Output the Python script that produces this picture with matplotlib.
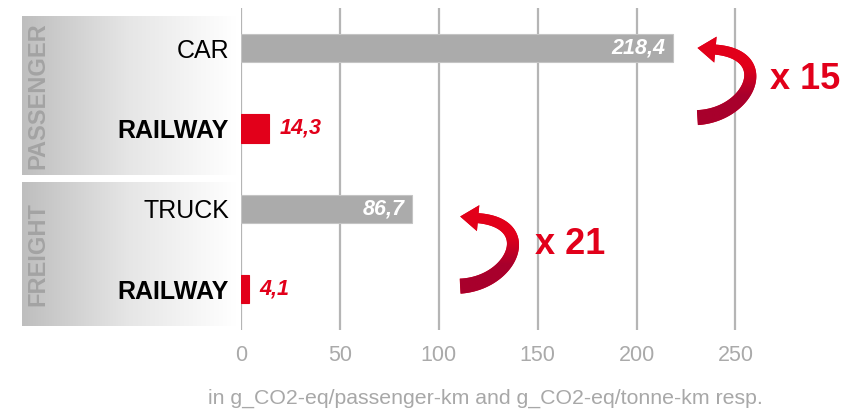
import numpy as np
import matplotlib.pyplot as plt
from matplotlib.patches import Polygon
from matplotlib.transforms import IdentityTransform
from matplotlib.colors import LinearSegmentedColormap

plt.rcParams['font.family'] = ['Liberation Sans', 'DejaVu Sans']

# data
categories = ["CAR", "RAILWAY", "TRUCK", "RAILWAY"]
values = [218.4, 14.3, 86.7, 4.1]
value_labels = ["218,4", "14,3", "86,7", "4,1"]
is_rail = [False, True, False, True]
groups = ["PASSENGER", "FREIGHT"]
factors = ["x 15", "x 21"]
x_ticks = [0, 50, 100, 150, 200, 250]
caption = "in g_CO2-eq/passenger-km and g_CO2-eq/tonne-km resp."

RED = "#e2001a"
DARK_RED = "#a8002c"
GREY = "#ababab"

W, H = 858, 411
fig = plt.figure(figsize=(W / 100, H / 100), dpi=100)


def px_box(x0, y0, x1, y1):
    # figure-pixel box (top-left origin) -> add_axes rect
    return [x0 / W, 1 - y1 / H, (x1 - x0) / W, (y1 - y0) / H]


# gradient boxes behind the group labels
grad = np.linspace(0, 1, 256).reshape(1, -1)
cmap = LinearSegmentedColormap.from_list("g", ["#bebebe", "#e6e6e6", "#ffffff"])
for rect, name in [((22, 16, 236, 175), groups[0]), ((22, 182, 236, 326), groups[1])]:
    bax = fig.add_axes(px_box(*rect), zorder=0)
    bax.imshow(grad, aspect="auto", cmap=cmap, extent=[0, 1, 0, 1])
    bax.set_axis_off()
    bax.text(0.072, 0.5, name, rotation=90, ha="center", va="center",
             fontsize=17, fontweight="bold", color="#a3a3a3", transform=bax.transAxes)

ax = fig.add_axes(px_box(241, 8, 858, 330), zorder=2)
ax.patch.set_alpha(0)

y = np.arange(len(categories))
colors = [RED if r else GREY for r in is_rail]
edges = [RED if r else "#c4c4c4" for r in is_rail]
ax.barh(y, values, height=0.35, color=colors, edgecolor=edges, linewidth=0.8, zorder=3)

for yi, v, lab, r in zip(y, values, value_labels, is_rail):
    if r:
        ax.annotate(lab, (v, yi), xytext=(10, 0), textcoords="offset pixels", ha="left", va="center",
                    fontsize=15.5, fontweight="bold", fontstyle="italic", color=RED, zorder=4)
    else:
        ax.annotate(lab, (v, yi), xytext=(-8, 0), textcoords="offset pixels", ha="right", va="center",
                    fontsize=15.5, fontweight="bold", fontstyle="italic", color="white", zorder=4)

ax.set_xlim(0, 312)
ax.set_ylim(3.51, -0.5)
ax.set_yticks(y)
ax.set_yticklabels(categories, fontsize=18)
for lbl, r in zip(ax.get_yticklabels(), is_rail):
    if r:
        lbl.set_fontweight("bold")
ax.set_xticks(x_ticks)
ax.set_xticklabels([str(t) for t in x_ticks], fontsize=15.5, color="#aaaaaa")
ax.tick_params(axis="both", length=0)
ax.tick_params(axis="x", pad=11)
ax.tick_params(axis="y", pad=8.5)
for s in ax.spines.values():
    s.set_visible(False)
for t in x_ticks:
    ax.axvline(t, color="#b5b5b5", lw=1.6, zorder=1)

# curved ribbon arrow, shape given in pixel offsets from the tail (y pointing up)
CTRL = np.array([[0, 0], [53, 3], [78, 63], [18, 68]], dtype=float)
HEAD_LEN, HEAD_HALF = 18, 13
arrow_grad = LinearSegmentedColormap.from_list("r", [DARK_RED, DARK_RED, RED, RED])


def curved_arrow(ax, tail_xy, label, label_xy):
    ox, oy = ax.transData.transform(tail_xy)
    t = np.linspace(0, 1, 120)[:, None]
    p0, p1, p2, p3 = CTRL + [ox, oy]
    pts = (1 - t) ** 3 * p0 + 3 * (1 - t) ** 2 * t * p1 + 3 * (1 - t) * t ** 2 * p2 + t ** 3 * p3
    d = np.gradient(pts, axis=0)
    d /= np.linalg.norm(d, axis=1)[:, None]
    n = np.column_stack([-d[:, 1], d[:, 0]])
    w = (15 - 5 * t[:, 0])[:, None] / 2
    left, right = pts + n * w, pts - n * w
    base, dirn, nb = pts[-1], d[-1], n[-1]
    tip = base + dirn * HEAD_LEN
    outline = np.vstack([left, base + nb * HEAD_HALF, tip, base - nb * HEAD_HALF, right[::-1]])
    poly = Polygon(outline, closed=True, transform=IdentityTransform(), facecolor=RED,
                   edgecolor="none", zorder=5)
    ax.add_patch(poly)
    # vertical shading, darker at the bottom
    inv = ax.transData.inverted()
    (x0, y0), (x1, y1) = inv.transform([outline.min(axis=0), outline.max(axis=0)])
    img = ax.imshow(np.linspace(0, 1, 64).reshape(-1, 1), cmap=arrow_grad, aspect="auto",
                    extent=[x0, x1, y0, y1], origin="lower", zorder=5.5, interpolation="bilinear")
    img.set_clip_path(poly)
    ax.text(*label_xy, label, ha="left", va="center", fontsize=26,
            fontweight="bold", color=RED, zorder=6)


curved_arrow(ax, (230.8, 0.865), factors[0], (267.7, 0.39))
curved_arrow(ax, (110.8, 2.964), factors[1], (148.8, 2.45))
ax.set_xlim(0, 312)
ax.set_ylim(3.51, -0.5)

fig.text(485 / W, 1 - 398 / H, caption, ha="center", va="center", fontsize=15.3, color="#a8a8a8")

fig.savefig("out.png", dpi=100)
